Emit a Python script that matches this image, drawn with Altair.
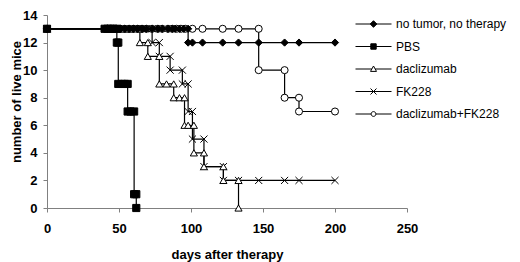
import altair as alt
import pandas as pd

names = ["no tumor, no therapy", "PBS", "daclizumab", "FK228", "daclizumab+FK228"]

notumor_days = [0, 42, 45, 48, 51, 54, 57, 60, 63, 66, 69, 73, 77, 80, 84, 87, 89, 92, 95, 98,
                98, 101, 108, 122, 133, 147, 165, 175, 200]
notumor_mice = [13, 13, 13, 13, 13, 13, 13, 13, 13, 13, 13, 13, 13, 13, 13, 13, 13, 13, 13, 13,
                12, 12, 12, 12, 12, 12, 12, 12, 12]

pbs_days = [0, 40, 42, 44, 46, 48.5, 48.5, 49.5, 49.5, 52, 54, 56, 56, 58, 60.5, 60.5, 62, 62]
pbs_mice = [13, 13, 13, 13, 13, 13, 12, 12, 9, 9, 9, 9, 7, 7, 7, 1, 1, 0]

dac_days = [0, 42, 45, 48, 51, 54, 57, 60, 64.5, 64.5, 70, 70, 78, 78, 83, 88, 88, 92, 95.5,
            95.5, 98, 102, 102, 109, 109, 122.5, 122.5, 133, 133]
dac_mice = [13, 13, 13, 13, 13, 13, 13, 13, 13, 12, 12, 11, 11, 9, 9, 9, 8, 8, 8,
            6, 6, 6, 4, 4, 3, 3, 2, 2, 0]

fk_days = [0, 42, 45, 48, 51, 54, 57, 60, 63, 66, 69, 73, 73, 78, 78, 85.5, 85.5, 94, 94, 98,
           98, 101, 101, 109, 109, 122.5, 122.5, 133, 147, 165, 175, 200]
fk_mice = [13, 13, 13, 13, 13, 13, 13, 13, 13, 13, 13, 13, 12, 12, 11, 11, 10, 10, 9, 9,
           7, 7, 5, 5, 3, 3, 2, 2, 2, 2, 2, 2]

combo_days = [0, 42, 45, 48, 51, 54, 57, 60, 63, 66, 69, 73, 77, 80, 84, 87, 90, 93, 96, 101,
              108, 122, 133, 147, 147, 165, 165, 175, 175, 200]
combo_mice = [13, 13, 13, 13, 13, 13, 13, 13, 13, 13, 13, 13, 13, 13, 13, 13, 13, 13, 13, 13,
              13, 13, 13, 13, 10, 10, 8, 8, 7, 7]

x_ticks = [0, 50, 100, 150, 200, 250]
y_ticks = [0, 2, 4, 6, 8, 10, 12, 14]

series_data = {
    "no tumor, no therapy": (notumor_days, notumor_mice),
    "PBS": (pbs_days, pbs_mice),
    "daclizumab": (dac_days, dac_mice),
    "FK228": (fk_days, fk_mice),
    "daclizumab+FK228": (combo_days, combo_mice),
}
# drawing order (first drawn = bottom)
draw_order = ["daclizumab+FK228", "FK228", "daclizumab", "PBS", "no tumor, no therapy"]

rows = []
for name in draw_order:
    days, mice = series_data[name]
    for i, (d, m) in enumerate(zip(days, mice)):
        rows.append({"series": name, "day": d, "mice": m, "idx": i})
df = pd.DataFrame(rows)

marker_shapes = ["M0,-1L1,0L0,1L-1,0Z", "square", "triangle-up",
                 "M-1,-1L1,1M-1,1L1,-1", "circle"]
marker_fills = ["black", "black", "white", "transparent", "white"]
marker_sizes = [52, 50, 58, 60, 46]

legend_shapes = [
    "M-6,0L6,0M0,-1.1L1.1,0L0,1.1L-1.1,0Z",
    "M-6,0L6,0M-0.9,-0.9L0.9,-0.9L0.9,0.9L-0.9,0.9Z",
    "M-6,0L-0.56,0M0.56,0L6,0M0,-1L1,0.8L-1,0.8Z",
    "M-6,0L6,0M-1,-1L1,1M-1,1L1,-1",
    "M-6,0L-0.8,0M0.8,0L6,0M0.8,0A0.8,0.8,0,1,1,-0.8,0A0.8,0.8,0,1,1,0.8,0Z",
]
legend_fills = ["black", "black", "white", "transparent", "white"]
legend_strokes = ["black", "black", "black", "black", "black"]

x_enc = alt.X("day:Q", scale=alt.Scale(domain=[0, 250], nice=False),
              axis=alt.Axis(values=x_ticks, title="days after therapy", labelPadding=10,
                            labelFlush=False, titleY=40.5, titleBaseline="top"))
y_enc = alt.Y("mice:Q", scale=alt.Scale(domain=[0, 14], nice=False),
              axis=alt.Axis(values=y_ticks, title="number of live mice", labelPadding=6,
                            labelFlush=False, titleAngle=270, titleX=-27, titleY=86.5,
                            titleBaseline="alphabetic", titleAlign="center"))

lines = alt.Chart(df).mark_line(color="black", strokeWidth=1.2).encode(
    x=x_enc, y=y_enc, detail="series:N", order="idx:Q"
)

points = alt.Chart(df).mark_point(stroke="black", strokeWidth=1, opacity=1).encode(
    x=x_enc, y=y_enc,
    shape=alt.Shape("series:N", scale=alt.Scale(domain=names, range=marker_shapes), legend=None),
    fill=alt.Fill("series:N", scale=alt.Scale(domain=names, range=marker_fills), legend=None),
    size=alt.Size("series:N", scale=alt.Scale(domain=names, range=marker_sizes), legend=None),
)

leg_props = dict(title=None, orient="none", legendX=301, legendY=3, padding=0,
                 labelFont="Liberation Sans", labelFontSize=12, labelColor="black",
                 rowPadding=10.5, symbolOffset=19.5, labelOffset=16.5, symbolSize=36,
                 symbolStrokeWidth=1, symbolStrokeColor="black")

legend_layer = alt.Chart(df).mark_point(strokeWidth=1, opacity=1, size=36).encode(
    shape=alt.Shape("series:N", scale=alt.Scale(domain=names, range=legend_shapes),
                    legend=alt.Legend(**leg_props)),
    fill=alt.Fill("series:N", scale=alt.Scale(domain=names, range=legend_fills),
                  legend=alt.Legend(**leg_props)),
    stroke=alt.Stroke("series:N", scale=alt.Scale(domain=names, range=legend_strokes),
                      legend=alt.Legend(**leg_props)),
).transform_filter("false")

chart = alt.layer(lines, points, legend_layer).resolve_scale(
    shape="independent", fill="independent", stroke="independent"
).properties(
    width=360, height=193,
    padding={"left": 39, "top": 7, "right": 105, "bottom": 54},
    autosize=alt.AutoSizeParams(type="none"),
).configure_view(stroke=None).configure_axis(
    grid=False, domainColor="#808080", tickColor="#808080", tickSize=4,
    labelFont="Liberation Sans", labelFontWeight="bold", labelFontSize=13, labelColor="black",
    titleFont="Liberation Sans", titleFontWeight="bold", titleFontSize=13, titleColor="black",
)

chart.save("out.html", embed_options={"renderer": "svg", "actions": False})
